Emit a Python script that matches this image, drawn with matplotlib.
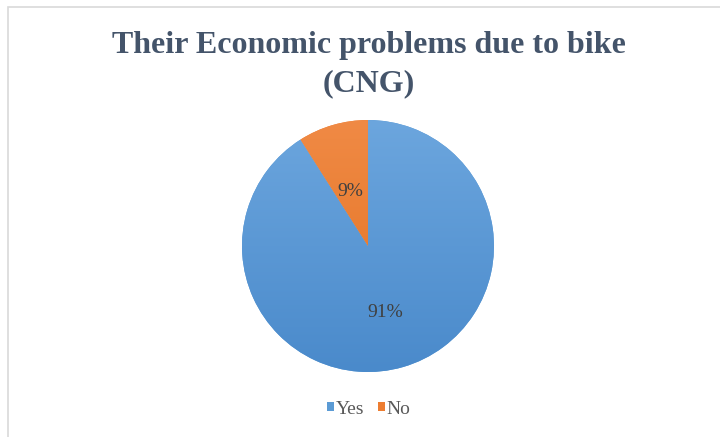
import matplotlib.pyplot as plt
import numpy as np
from matplotlib.patches import Rectangle, Patch
from matplotlib.colors import to_rgb

labels = ['Yes', 'No']
shares = [91, 9]
colors_top = ['#6CA6DE', '#F08A45']
colors_bottom = ['#4A8ACB', '#E2701F']
base_colors = ['#5B9BD5', '#ED7D31']

plt.rcParams['font.family'] = ['Liberation Serif', 'DejaVu Serif']

fig = plt.figure(figsize=(7.2, 4.37), dpi=100)

# light chart frame (top and left edges visible)
fig.patches.append(Rectangle((8 / 720, -0.05), 1.2, 1 - 7 / 437 + 0.05,
                             transform=fig.transFigure, fill=False,
                             edgecolor='#D9D9D9', linewidth=1.2))

fig.text(0.513, 0.895, 'Their Economic problems due to bike', ha='center', va='center',
         fontsize=23, fontweight='bold', color='#44546A')
fig.text(0.512, 0.808, '(CNG)', ha='center', va='center',
         fontsize=23, fontweight='bold', color='#44546A')

ax = fig.add_axes([0.3361, 0.1487, 0.35, 0.5767])
wedges, _, autotexts = ax.pie(shares, colors=base_colors, startangle=90, counterclock=False,
                              autopct='%d%%', pctdistance=0.5,
                              textprops=dict(fontsize=14, color='#404040'))
ax.set_xlim(-1, 1)
ax.set_ylim(-1, 1)

# soft vertical gradient inside each slice
for w, ct, cb in zip(wedges, colors_top, colors_bottom):
    t = np.array(to_rgb(ct))
    b = np.array(to_rgb(cb))
    g = np.linspace(0, 1, 256)[:, None, None]
    img = np.repeat(b + (t - b) * g, 2, axis=1)
    im = ax.imshow(img, extent=[-1, 1, -1, 1], origin='lower', zorder=1.5, aspect='auto')
    im.set_clip_path(w)
for a in autotexts:
    x, y = a.get_position()
    a.set_position((x, y - 0.045))
    a.set_zorder(3)

handles = [Patch(facecolor=c, edgecolor='none') for c in base_colors]
fig.legend(handles, labels, loc='center', bbox_to_anchor=(0.512, 0.064), ncol=2,
           frameon=False, fontsize=14, handlelength=0.36, handleheight=0.36,
           handletextpad=0.1, columnspacing=0.7, labelcolor='#595959')

fig.savefig('out.png', dpi=100)
